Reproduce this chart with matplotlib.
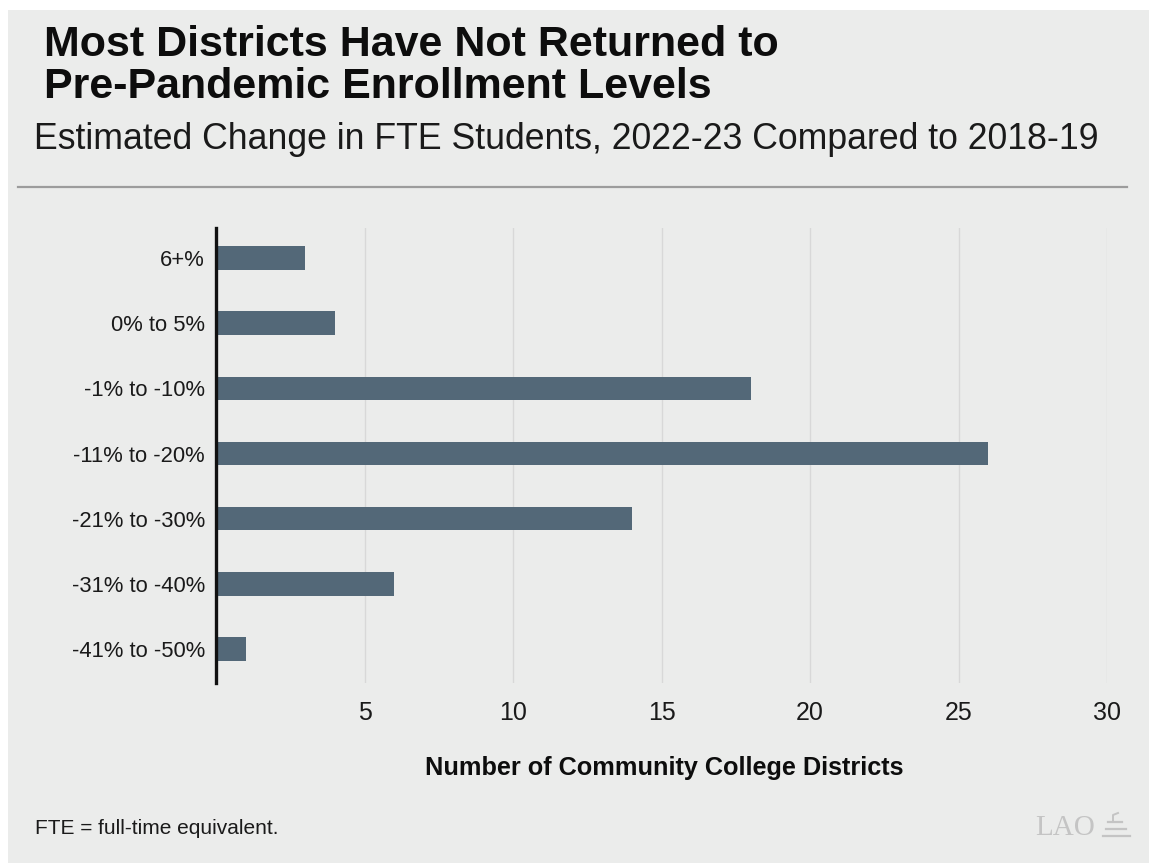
import matplotlib
matplotlib.use("Agg")
import matplotlib.pyplot as plt
from matplotlib.patches import Rectangle
from matplotlib.lines import Line2D

# Data
categories = ["6+%", "0% to 5%", "-1% to -10%", "-11% to -20%",
              "-21% to -30%", "-31% to -40%", "-41% to -50%"]
districts = [3, 4, 18, 26, 14, 6, 1]
x_ticks = [5, 10, 15, 20, 25, 30]

title_lines = ["Most Districts Have Not Returned to",
               "Pre-Pandemic Enrollment Levels"]
subtitle = "Estimated Change in FTE Students, 2022-23 Compared to 2018-19"
x_label = "Number of Community College Districts"
footnote = "FTE = full-time equivalent."

BG = "#ebeceb"
BAR = "#536878"
W, H = 1149, 863

plt.rcParams["font.family"] = ["Liberation Sans", "DejaVu Sans"]

fig = plt.figure(figsize=(W / 100, H / 100), dpi=100, facecolor="white")

# Gray panel with a thin white margin along top and left
fig.patches.append(Rectangle((8 / W, 0), 1 - 8 / W, 1 - 10 / H,
                             transform=fig.transFigure, facecolor=BG,
                             edgecolor="none", zorder=-5))

def fx(px):
    return px / W

def fy(py):
    return 1 - py / H

# Titles
fig.text(fx(44), fy(56), title_lines[0], fontsize=31, fontweight="bold",
         va="baseline", ha="left", color="#0d0d0d")
fig.text(fx(44), fy(98), title_lines[1], fontsize=31, fontweight="bold",
         va="baseline", ha="left", color="#0d0d0d")
fig.text(fx(34), fy(149), subtitle, fontsize=25.7, va="baseline",
         ha="left", color="#1a1a1a")

# Divider rule
fig.add_artist(Line2D([fx(18), fx(1127)], [fy(187), fy(187)],
                      transform=fig.transFigure, color="#9c9c9c", lw=1.6))

# Chart axes
ax = fig.add_axes([fx(216), fy(683), fx(1107) - fx(216), fy(228) - fy(683)])
ax.set_zorder(2)
ax.set_facecolor(BG)
ypos = list(range(len(categories)))
ax.barh(ypos, districts, height=0.36, color=BAR, zorder=3)

ax.set_xlim(0, 30)
ax.set_ylim(6.52, -0.46)
ax.set_yticks(ypos)
ax.set_yticklabels(categories)
ax.set_xticks(x_ticks)
ax.set_xticklabels([str(t) for t in x_ticks])
ax.tick_params(axis="x", length=0, pad=13, labelsize=18, labelcolor="#1a1a1a")
ax.tick_params(axis="y", length=0, pad=8, labelsize=15.8, labelcolor="#1a1a1a")
ax.grid(axis="x", color="#d8d8d8", lw=1.0, zorder=1)
ax.grid(axis="y", visible=False)

for side in ["top", "right", "bottom"]:
    ax.spines[side].set_visible(False)
ax.spines["left"].set_color("#111111")
ax.spines["left"].set_linewidth(2.4)
ax.spines["left"].set_zorder(4)

fig.text(fx(664), fy(768), x_label, fontsize=18.2, fontweight="bold",
         ha="center", va="center", color="#0d0d0d")

# Footnote
fig.text(fx(35), fy(828), footnote, fontsize=15, ha="left",
         va="center", color="#1a1a1a")

# LAO mark
fig.text(fx(1035), fy(828), "LAO", fontsize=21, family="Liberation Serif",
         ha="left", va="center", color="#c4c4c4")
logo_color = "#c4c4c4"
for y0, x0, x1 in [(822, 1108, 1122), (829, 1106, 1126), (836, 1103, 1130)]:
    fig.add_artist(Line2D([fx(x0), fx(x1)], [fy(y0), fy(y0)],
                          transform=fig.transFigure, color=logo_color, lw=1.6))
fig.add_artist(Line2D([fx(1113), fx(1113), fx(1118)], [fy(822), fy(815), fy(813)],
                      transform=fig.transFigure, color=logo_color, lw=1.4))

fig.savefig("out.png", dpi=100, facecolor="white")
